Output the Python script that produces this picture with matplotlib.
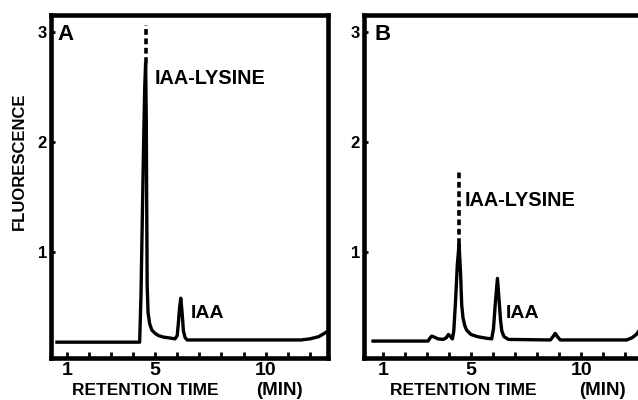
import matplotlib
matplotlib.use("Agg")
import matplotlib.pyplot as plt

# HPLC traces: retention time (min) vs fluorescence
time_a = [0.56, 4.30, 4.36, 4.42, 4.48, 4.53, 4.57, 4.60, 4.62, 4.64, 4.68,
          4.75, 4.85, 5.0, 5.15, 5.4, 5.6, 5.9, 6.0, 6.05, 6.10, 6.16, 6.22,
          6.28, 6.36, 6.45, 7.0, 9.0, 11.0, 11.6, 12.0, 12.4, 12.82]
fluor_a = [0.18, 0.18, 0.60, 1.30, 2.00, 2.50, 2.72, 2.20, 1.40, 0.70, 0.45,
           0.35, 0.29, 0.26, 0.24, 0.225, 0.22, 0.21, 0.24, 0.35, 0.48, 0.58,
           0.45, 0.28, 0.22, 0.20, 0.20, 0.20, 0.20, 0.20, 0.21, 0.23, 0.28]

time_b = [0.56, 3.05, 3.15, 3.22, 3.35, 3.50, 3.75, 3.88, 3.98, 4.08, 4.16,
          4.22, 4.30, 4.38, 4.46, 4.53, 4.58, 4.64, 4.72, 4.80, 5.0, 5.3,
          5.72, 5.94, 6.02, 6.10, 6.20, 6.28, 6.34, 6.40, 6.50, 6.70, 8.60,
          8.72, 8.82, 8.92, 9.05, 12.06, 12.30, 12.50, 12.71]
fluor_b = [0.19, 0.19, 0.22, 0.235, 0.225, 0.21, 0.205, 0.22, 0.25, 0.23,
           0.21, 0.28, 0.55, 0.88, 1.07, 0.80, 0.52, 0.40, 0.33, 0.29, 0.25,
           0.23, 0.215, 0.21, 0.30, 0.52, 0.76, 0.55, 0.38, 0.28, 0.23, 0.205,
           0.20, 0.23, 0.26, 0.23, 0.20, 0.20, 0.22, 0.25, 0.31]

# dotted continuation above the main (IAA-lysine) peak: time, from, to
dash_a = [4.57, 2.72, 3.06]
dash_b = [4.46, 1.07, 1.73]

panel_names = ["A", "B"]
peak_names = ["IAA-LYSINE", "IAA"]
x_ticks = list(range(1, 13))
x_tick_labels = ["1", "", "", "", "5", "", "", "", "", "10", "", ""]
y_ticks = [1, 2, 3]
y_tick_labels = ["1", "2", "3"]

BOLD = ["Liberation Sans", "DejaVu Sans"]


def draw_panel(ax, times, fluor, dash, name, xlim, lys_xy, iaa_xy,
               label_x, min_x):
    """
    Draw one chromatogram with its peak labels and axis text.
    """
    ax.plot(times, fluor, color="black", lw=2.4)
    ax.plot([dash[0], dash[0]], [dash[1], dash[2]], color="black", lw=2.6,
            linestyle=(0, (1.6, 1.0)), solid_capstyle="butt")
    ax.set_xlim(*xlim)
    ax.set_ylim(0.036, 3.155)
    for side in ax.spines.values():
        side.set_linewidth(3.3)
    ax.set_xticks(x_ticks)
    ax.set_xticklabels(x_tick_labels, fontfamily=BOLD, fontweight="bold",
                       fontsize=14)
    ax.set_yticks(y_ticks)
    ax.set_yticklabels(y_tick_labels, fontfamily=BOLD, fontweight="bold",
                       fontsize=12)
    ax.tick_params(axis="x", direction="in", length=4, width=2, pad=3)
    ax.tick_params(axis="y", direction="in", length=3, width=2, pad=3)

    ax.text(lys_xy[0], lys_xy[1], peak_names[0], fontfamily=BOLD,
            fontweight="bold", fontsize=14.3, ha="left", va="center")
    ax.text(iaa_xy[0], iaa_xy[1], peak_names[1], fontfamily=BOLD,
            fontweight="bold", fontsize=14, ha="left", va="center")
    ax.text(name[1], 0.974, name[0], transform=ax.transAxes,
            fontfamily=BOLD, fontweight="bold", fontsize=16, ha="left",
            va="top")
    ax.text(label_x, -0.095, "RETENTION TIME", transform=ax.transAxes,
            fontfamily=BOLD, fontweight="bold", fontsize=12.5, ha="center",
            va="center")
    ax.text(min_x, -0.095, "(MIN)", transform=ax.transAxes,
            fontfamily=BOLD, fontweight="bold", fontsize=13.5, ha="center",
            va="center")


fig = plt.figure(figsize=(6.38, 4.0), dpi=100)
ax_a = fig.add_axes([51 / 638, 42 / 400, 277 / 638, 343 / 400])
ax_b = fig.add_axes([364 / 638, 42 / 400, 277 / 638, 343 / 400])

draw_panel(ax_a, time_a, fluor_a, dash_a, (panel_names[0], 0.022),
           (0.29, 12.82), (4.98, 2.58), (6.62, 0.44), 0.341, 0.823)
draw_panel(ax_b, time_b, fluor_b, dash_b, (panel_names[1], 0.038),
           (0.15, 12.71), (4.70, 1.47), (6.58, 0.44), 0.357, 0.859)

fig.text(0.030, 0.596, "FLUORESCENCE", rotation=90, fontfamily=BOLD,
         fontweight="bold", fontsize=12, ha="center", va="center")

fig.savefig("out.png", dpi=100)
